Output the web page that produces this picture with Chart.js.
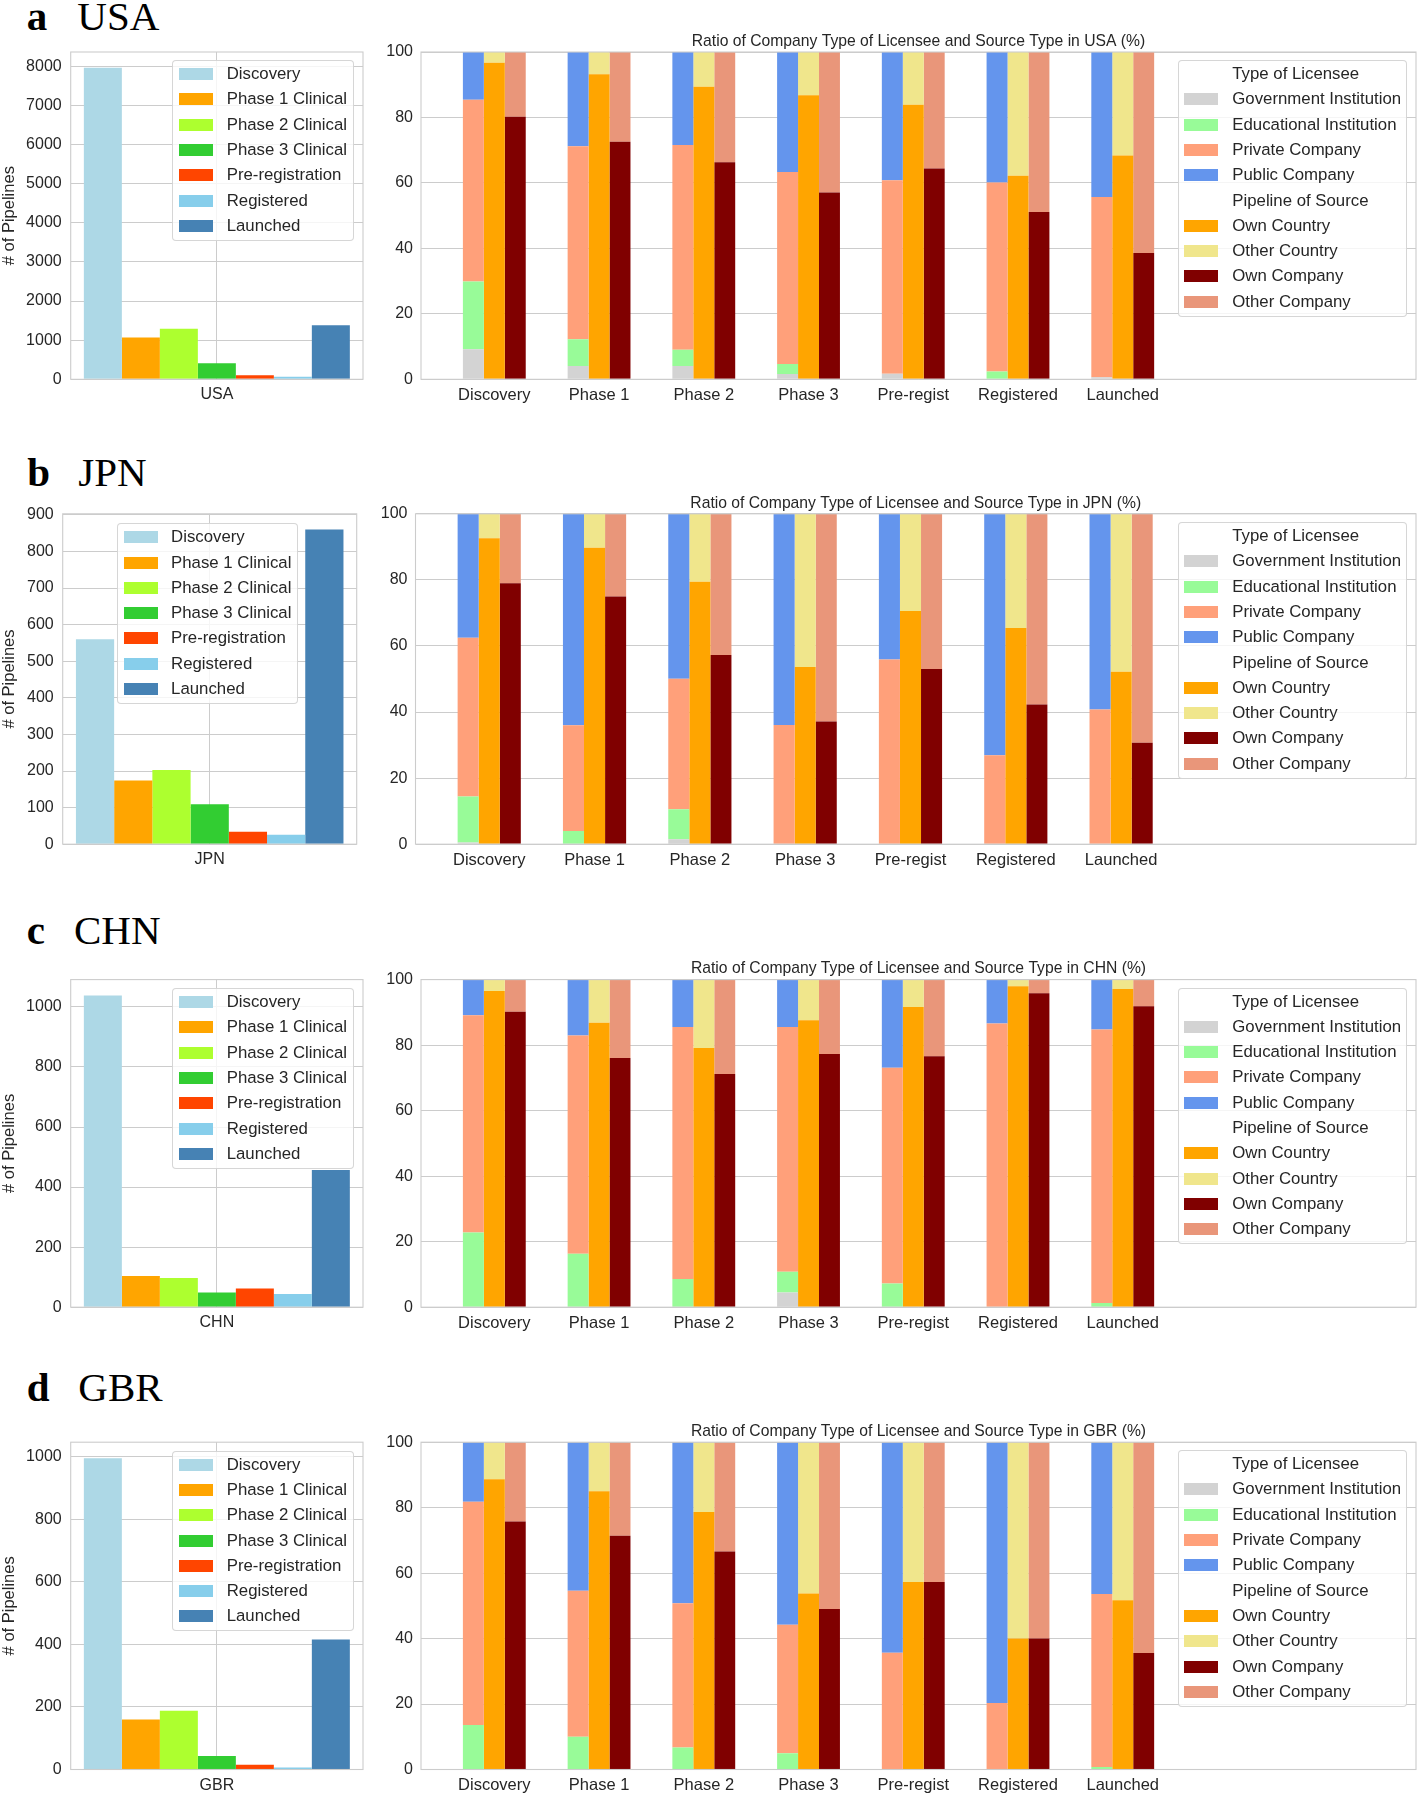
<!DOCTYPE html>
<html>
<head>
<meta charset="utf-8">
<script src="https://cdn.jsdelivr.net/npm/chart.js@4.4.0/dist/chart.umd.min.js"></script>
<style>
html,body{margin:0;padding:0;background:#fff;}
#page{position:relative;width:1417px;height:1796px;overflow:hidden;font-family:"Liberation Sans",Arial,sans-serif;color:#262626;}
canvas{position:absolute;}
.hdr{position:absolute;font-family:"Liberation Serif","Times New Roman",serif;font-size:41px;line-height:41px;color:#000;white-space:nowrap;}
.hdr.b{font-weight:bold;}
.lg{position:absolute;background:rgba(255,255,255,0.8);border:1px solid rgba(204,204,204,0.8);border-radius:4px;box-sizing:border-box;}
.lg .sw{position:absolute;width:34px;height:12px;}
.lg .tx{position:absolute;font-size:16.8px;line-height:26px;height:26px;white-space:nowrap;color:#262626;}
</style>
</head>
<body>
<div id="page"></div>
<script>
// ---------- data ----------
const stageNames = ['Discovery','Phase 1 Clinical','Phase 2 Clinical','Phase 3 Clinical','Pre-registration','Registered','Launched'];
const stageTicks = ['Discovery','Phase 1','Phase 2','Phase 3','Pre-regist','Registered','Launched'];
const stageColors = ['#add8e6','#ffa500','#adff2f','#32cd32','#ff4500','#87ceeb','#4682b4'];
const licenseeNames = ['Government Institution','Educational Institution','Private Company','Public Company'];
const licenseeColors = ['#d3d3d3','#98fb98','#ffa07a','#6495ed'];
const sourceNames = ['Own Country','Other Country','Own Company','Other Company'];
const sourceColors = ['#ffa500','#f0e68c','#800000','#e9967a'];
const countryCodes = ['USA','JPN','CHN','GBR'];
const panelLetters = ['a','b','c','d'];

// pipelines per stage
const usaCounts = [7970, 1071, 1291, 408, 102, 66, 1385];
const jpnCounts = [560, 174, 203, 109, 34, 26, 860];
const chnCounts = [1038, 104, 97, 49, 62, 44, 457];
const gbrCounts = [996, 160, 188, 43, 15, 6, 416];
const countYMax = [8370, 903, 1091, 1047];
const usaCountTicks = [0, 1000, 2000, 3000, 4000, 5000, 6000, 7000, 8000];
const jpnCountTicks = [0, 100, 200, 300, 400, 500, 600, 700, 800, 900];
const chnCountTicks = [0, 200, 400, 600, 800, 1000];
const gbrCountTicks = [0, 200, 400, 600, 800, 1000];

// ratio (%) per stage — type of licensee
const usaGov  = [9.2, 4.1, 4.1, 1.6, 1.7, 0, 0.6];
const usaEdu  = [20.7, 8.1, 4.9, 3.1, 0, 2.4, 0];
const usaPriv = [55.5, 59.0, 62.6, 58.6, 59.1, 57.7, 55.1];
const usaPub  = [14.6, 28.8, 28.4, 36.7, 39.2, 39.9, 44.3];
// pipeline of source
const usaOwnCountry   = [96.7, 93.2, 89.4, 86.8, 83.9, 62.2, 68.4];
const usaOtherCountry = [3.3, 6.8, 10.6, 13.2, 16.1, 37.8, 31.6];
const usaOwnCompany   = [80.2, 72.6, 66.3, 57.1, 64.4, 51.1, 38.6];
const usaOtherCompany = [19.8, 27.4, 33.7, 42.9, 35.6, 48.9, 61.4];

const jpnGov  = [0.5, 0, 1.5, 0, 0, 0, 0];
const jpnEdu  = [13.9, 4.0, 9.1, 0, 0, 0, 0];
const jpnPriv = [48.1, 32.0, 39.5, 36.1, 55.9, 26.9, 40.8];
const jpnPub  = [37.5, 64.0, 49.9, 63.9, 44.1, 73.1, 59.2];
const jpnOwnCountry   = [92.6, 89.7, 79.4, 53.6, 70.6, 65.4, 52.2];
const jpnOtherCountry = [7.4, 10.3, 20.6, 46.4, 29.4, 34.6, 47.8];
const jpnOwnCompany   = [79.0, 75.0, 57.3, 37.1, 53.0, 42.3, 30.7];
const jpnOtherCompany = [21.0, 25.0, 42.7, 62.9, 47.0, 57.7, 69.3];

const chnGov  = [0, 0, 0, 4.5, 0, 0, 0];
const chnEdu  = [22.8, 16.3, 8.6, 6.3, 7.2, 0, 1.3];
const chnPriv = [66.3, 66.6, 76.9, 74.7, 65.9, 86.6, 83.5];
const chnPub  = [10.9, 17.1, 14.5, 14.5, 26.9, 13.4, 15.2];
const chnOwnCountry   = [96.5, 86.8, 79.1, 87.6, 91.6, 98.0, 97.1];
const chnOtherCountry = [3.5, 13.2, 20.9, 12.4, 8.4, 2.0, 2.9];
const chnOwnCompany   = [90.2, 76.1, 71.2, 77.3, 76.6, 95.8, 91.9];
const chnOtherCompany = [9.8, 23.9, 28.8, 22.7, 23.4, 4.2, 8.1];

const gbrGov  = [0, 0, 0, 0, 0, 0, 0];
const gbrEdu  = [13.6, 10.0, 6.7, 5.0, 0, 0, 0.8];
const gbrPriv = [68.2, 44.6, 44.1, 39.2, 35.7, 20.3, 52.8];
const gbrPub  = [18.2, 45.4, 49.2, 55.8, 64.3, 79.7, 46.4];
const gbrOwnCountry   = [88.7, 85.0, 78.7, 53.8, 57.3, 40.0, 51.7];
const gbrOtherCountry = [11.3, 15.0, 21.3, 46.2, 42.7, 60.0, 48.3];
const gbrOwnCompany   = [75.8, 71.4, 66.6, 49.0, 57.3, 40.0, 35.6];
const gbrOtherCompany = [24.2, 28.6, 33.4, 51.0, 42.7, 60.0, 64.4];

const ratioTicks = [0, 20, 40, 60, 80, 100];

// ---------- layout (pixel geometry only) ----------
const panelCounts = [usaCounts, jpnCounts, chnCounts, gbrCounts];
const panelCountTicks = [usaCountTicks, jpnCountTicks, chnCountTicks, gbrCountTicks];
const panelLic = [[usaGov,usaEdu,usaPriv,usaPub],[jpnGov,jpnEdu,jpnPriv,jpnPub],[chnGov,chnEdu,chnPriv,chnPub],[gbrGov,gbrEdu,gbrPriv,gbrPub]];
const panelSrc = [[usaOwnCountry,usaOtherCountry,usaOwnCompany,usaOtherCompany],[jpnOwnCountry,jpnOtherCountry,jpnOwnCompany,jpnOtherCompany],[chnOwnCountry,chnOtherCountry,chnOwnCompany,chnOtherCompany],[gbrOwnCountry,gbrOtherCountry,gbrOwnCompany,gbrOtherCompany]];
const geo = [
  {top:52,    bottom:379.3,  lL:70.7, lR:363,   rL:421,   legLx:172.3, legLy:60,     legLrow:74,     legRy:60,     legRrow:74,     letterX:26.7, codeX:77.3, base:30},
  {top:513.8, bottom:844.2,  lL:62.7, lR:356.7, rL:415.5, legLx:116.7, legLy:523.3,  legLrow:537.3,  legRy:522,    legRrow:536,    letterX:27.3, codeX:78.3, base:486},
  {top:979.6, bottom:1307.2, lL:70.7, lR:363,   rL:421,   legLx:172.3, legLy:988,    legLrow:1002,   legRy:987.6,  legRrow:1001.6, letterX:26.7, codeX:74,   base:944.3},
  {top:1442.2,bottom:1769.5, lL:70.7, lR:363,   rL:421,   legLx:172.3, legLy:1450.7, legLrow:1464.7, legRy:1450.2, legRrow:1464.2, letterX:26.7, codeX:78.3, base:1401.7}
];

const page = document.getElementById('page');
const FONT = '"Liberation Sans", Arial, sans-serif';
const TXT = '#262626';
const GRID = '#cccccc';

const framePlugin = {
  id: 'frame',
  afterDatasetsDraw(chart) {
    const {ctx, chartArea: a} = chart;
    ctx.save();
    ctx.strokeStyle = GRID;
    ctx.lineWidth = 1.1;
    ctx.strokeRect(a.left, a.top, a.right - a.left, a.bottom - a.top);
    ctx.restore();
  }
};

function makeCanvas(left, top, w, h) {
  const c = document.createElement('canvas');
  c.width = w; c.height = h;
  c.style.left = left + 'px'; c.style.top = top + 'px';
  c.style.width = w + 'px'; c.style.height = h + 'px';
  page.appendChild(c);
  return c;
}

function addText(cls, txt, x, top) {
  const s = document.createElement('div');
  s.className = cls; s.textContent = txt;
  s.style.left = x + 'px'; s.style.top = top + 'px';
  page.appendChild(s);
}

function addLegend(x, y, w, h, firstRow, items, swX, txX) {
  const d = document.createElement('div');
  d.className = 'lg';
  d.style.left = x + 'px'; d.style.top = y + 'px';
  d.style.width = w + 'px'; d.style.height = h + 'px';
  items.forEach((it, k) => {
    const c = firstRow + k * 25.3 - y - 1;
    if (it.color) {
      const sw = document.createElement('div');
      sw.className = 'sw';
      sw.style.left = (swX - 1) + 'px'; sw.style.top = (c - 6) + 'px';
      sw.style.background = it.color;
      d.appendChild(sw);
    }
    const t = document.createElement('div');
    t.className = 'tx'; t.textContent = it.label;
    t.style.left = (txX - 1) + 'px'; t.style.top = (c - 13) + 'px';
    d.appendChild(t);
  });
  page.appendChild(d);
}

countryCodes.forEach((code, p) => {
  const g = geo[p];
  // header
  addText('hdr b', panelLetters[p], g.letterX, g.base - 34.3);
  addText('hdr', code, g.codeX, g.base - 34.3);

  // ---- left: counts per stage ----
  const cTop = Math.floor(g.top - 26);
  const cH = Math.ceil(g.bottom - cTop + 40);
  const cW = Math.ceil(g.lR + 8);
  const xH = cTop + cH - g.bottom;
  const cv1 = makeCanvas(0, cTop, cW, cH);
  new Chart(cv1, {
    type: 'bar',
    data: {
      labels: [code],
      datasets: stageNames.map((n, i) => ({
        label: n, data: [panelCounts[p][i]], backgroundColor: stageColors[i],
        borderWidth: 0, categoryPercentage: 0.91, barPercentage: 1
      }))
    },
    options: {
      responsive: false, animation: false, maintainAspectRatio: false,
      layout: {padding: {top: g.top - cTop, right: cW - g.lR, bottom: 0, left: 0}},
      plugins: {legend: {display: false}, tooltip: {enabled: false}, title: {display: false}},
      scales: {
        x: {
          grid: {offset: false, color: GRID, drawTicks: false, lineWidth: 1},
          border: {display: false},
          ticks: {font: {family: FONT, size: 16}, color: TXT, padding: 6},
          afterFit: s => { s.height = xH; }
        },
        y: {
          min: 0, max: countYMax[p], bounds: 'data',
          afterBuildTicks: s => { s.ticks = panelCountTicks[p].map(v => ({value: v})); },
          ticks: {callback: v => String(v), font: {family: FONT, size: 16}, color: TXT, padding: 9},
          grid: {color: GRID, drawTicks: false, lineWidth: 1},
          border: {display: false},
          title: {display: true, text: '# of Pipelines', font: {family: FONT, size: 16.5}, color: TXT, padding: 0},
          afterFit: s => { s.width = g.lL; }
        }
      }
    },
    plugins: [framePlugin]
  });

  // ---- right: stacked ratios ----
  const rLeft = 370;
  const rTop = Math.floor(g.top - 30);
  const rH = Math.ceil(g.bottom - rTop + 40);
  const rW = 1417 - rLeft;
  const rxH = rTop + rH - g.bottom;
  const titleBox = g.top - rTop;
  const titleLH = 15.7 * 1.2;
  const titleCenter = g.top - 10.5 - rTop;
  const tPadTop = titleCenter - titleLH / 2;
  const tPadBot = titleBox - tPadTop - titleLH;
  const mk = (label, vals, color, stack) => ({
    label, stack, backgroundColor: color, borderWidth: 0,
    categoryPercentage: 0.6, barPercentage: 1,
    data: vals.map((v, i) => ({x: i, y: v}))
  });
  const ds = [];
  licenseeNames.forEach((n, i) => ds.push(mk(n, panelLic[p][i], licenseeColors[i], 'licensee')));
  ds.push(mk(sourceNames[0], panelSrc[p][0], sourceColors[0], 'country'));
  ds.push(mk(sourceNames[1], panelSrc[p][1], sourceColors[1], 'country'));
  ds.push(mk(sourceNames[2], panelSrc[p][2], sourceColors[2], 'company'));
  ds.push(mk(sourceNames[3], panelSrc[p][3], sourceColors[3], 'company'));
  const cv2 = makeCanvas(rLeft, rTop, rW, rH);
  new Chart(cv2, {
    type: 'bar',
    data: {datasets: ds},
    options: {
      responsive: false, animation: false, maintainAspectRatio: false,
      layout: {padding: {top: 0, right: rW - (1416 - rLeft), bottom: 0, left: 0}},
      plugins: {
        legend: {display: false}, tooltip: {enabled: false},
        title: {display: true, fullSize: false,
                text: 'Ratio of Company Type of Licensee and Source Type in ' + code + ' (%)',
                font: {family: FONT, size: 15.7, weight: 'normal'}, color: TXT,
                padding: {top: tPadTop, bottom: tPadBot}}
      },
      scales: {
        x: {
          type: 'linear', min: -0.7, max: 8.8, bounds: 'data', stacked: true, offset: false,
          grid: {display: false, drawTicks: false}, border: {display: false},
          afterBuildTicks: s => { s.ticks = stageTicks.map((_, i) => ({value: i})); },
          ticks: {callback: v => (stageTicks[v] !== undefined ? stageTicks[v] : ''), autoSkip: false, maxRotation: 0,
                  font: {family: FONT, size: 16.5}, color: TXT, padding: 6},
          afterFit: s => { s.height = rxH; }
        },
        y: {
          stacked: true, min: 0, max: 100,
          afterBuildTicks: s => { s.ticks = ratioTicks.map(v => ({value: v})); },
          ticks: {font: {family: FONT, size: 16}, color: TXT, padding: 8},
          grid: {color: GRID, drawTicks: false, lineWidth: 1},
          border: {display: false},
          afterFit: s => { s.width = g.rL - rLeft; }
        }
      }
    },
    plugins: [framePlugin]
  });

  // legends
  addLegend(g.legLx, g.legLy, 181.7, 180.7, g.legLrow,
    stageNames.map((n, i) => ({label: n, color: stageColors[i]})), 7, 54.4);
  const rItems = [{label: 'Type of Licensee'}]
    .concat(licenseeNames.map((n, i) => ({label: n, color: licenseeColors[i]})))
    .concat([{label: 'Pipeline of Source'}])
    .concat(sourceNames.map((n, i) => ({label: n, color: sourceColors[i]})));
  addLegend(1178.3, g.legRy, 228.4, 256.7, g.legRrow, rItems, 6, 54);
});
</script>
</body>
</html>
